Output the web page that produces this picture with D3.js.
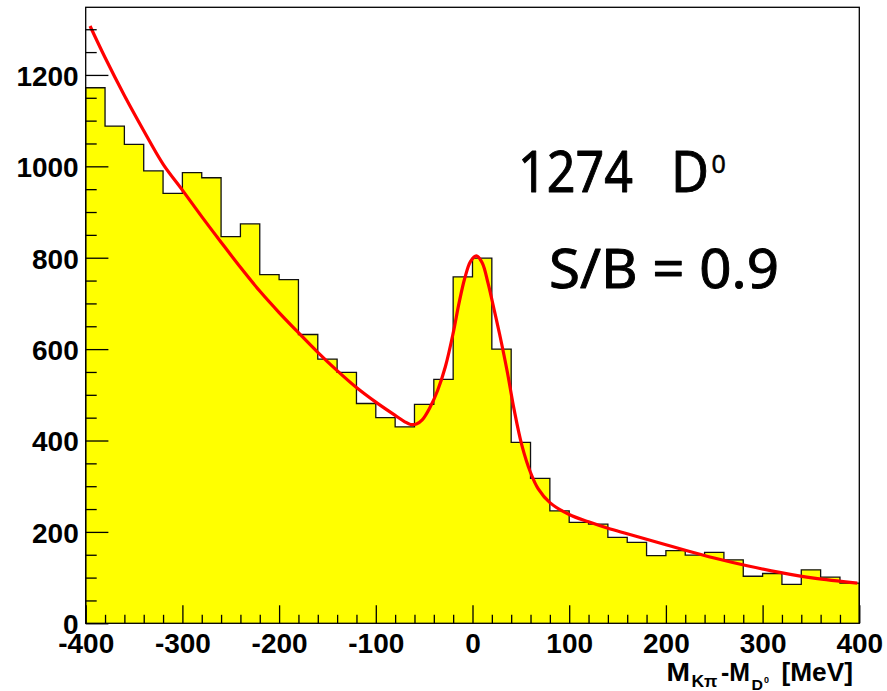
<!DOCTYPE html>
<html>
<head>
<meta charset="utf-8">
<script src="https://cdn.jsdelivr.net/npm/d3@7"></script>
<style>
  html, body { margin: 0; padding: 0; background: #fff; }
  svg { display: block; }
</style>
</head>
<body>
<svg id="chart" width="887" height="691"></svg>
<script>
// ---- Data ----
// histogram bins: left edges (MeV), width 20
const binEdges = [-400,-380,-360,-340,-320,-300,-280,-260,-240,-220,-200,-180,-160,-140,-120,-100,-80,-60,-40,-20,
                  0,20,40,60,80,100,120,140,160,180,200,220,240,260,280,300,320,340,360,380];
const binCounts = [1172,1088,1048,990,941,986,975,846,874,763,752,632,578,549,481,450,430,479,534,758,
                   799,600,396,317,246,221,217,188,177,148,159,149,155,139,103,109,85,117,101,88];
const binWidth = 20;

// fit curve
const fitX = [-395.5,-380,-360,-340,-320,-300,-280,-260,-240,-220,-200,-180,-160,-140,-120,-100,-80,-70,-64,-58,-52,-44,-36,-28,-20,-14,-8,-2,4,10,16,22,28,36,43,51,60,68,80,100,120,140,160,180,200,220,250,284,319,353,398];
const fitY = [1307,1238,1155,1078,1005,948,890,834,779,727,680,636,593,553,516,484,455,441,435,436,445,472,510,562,635,700,755,792,804,789,745,690,633,550,468,390,330,294,264,238,222,208,196,184,172,160,143,126,111,99,88];

const xMajorTicks = [-400,-300,-200,-100,0,100,200,300,400];
const yMajorTicks = [0,200,400,600,800,1000,1200];

// ---- Layout ----
const svg = d3.select("#chart");
const L = 85.7, R = 859.3, T = 7.3, B = 623.3;
const x = d3.scaleLinear().domain([-400, 400]).range([L, R]);
const y = d3.scaleLinear().domain([0, 1348]).range([B, T]);

// histogram fill
const pts = binEdges.map((e, i) => [e, binCounts[i]]);
pts.push([binEdges[binEdges.length - 1] + binWidth, binCounts[binCounts.length - 1]]);

const area = d3.area()
  .x(d => x(d[0]))
  .y0(y(0))
  .y1(d => y(d[1]))
  .curve(d3.curveStepAfter);

svg.append("path")
  .attr("d", area(pts))
  .attr("fill", "#ffff00")
  .attr("stroke", "none");

// histogram outline
const stepPath = d3.line().x(d => x(d[0])).y(d => y(d[1])).curve(d3.curveStepAfter)(pts);
svg.append("path")
  .attr("d", "M" + x(-400) + "," + y(0) + "L" + stepPath.slice(1) + "L" + x(400) + "," + y(0))
  .attr("fill", "none")
  .attr("stroke", "#111")
  .attr("stroke-width", 1.3);

// fit curve
const fitPts = fitX.map((v, i) => [v, fitY[i]]);
svg.append("path")
  .attr("d", d3.line().x(d => x(d[0])).y(d => y(d[1])).curve(d3.curveCatmullRom.alpha(0.5))(fitPts))
  .attr("fill", "none")
  .attr("stroke", "#ff0000")
  .attr("stroke-width", 3.2)
  .attr("stroke-linejoin", "round");

// frame
svg.append("rect")
  .attr("x", L).attr("y", T)
  .attr("width", R - L).attr("height", B - T)
  .attr("fill", "none")
  .attr("stroke", "#000")
  .attr("stroke-width", 1.3);

const labelFont = "'Liberation Sans', Arial, Helvetica, sans-serif";
const fmt = d => String(d);

// y axis minor
const yMinor = d3.range(0, 1301, 50).filter(v => v % 200 !== 0);
const gyMinor = svg.append("g").attr("transform", `translate(${L},0)`)
  .call(d3.axisLeft(y).tickValues(yMinor).tickSize(-11).tickFormat(""));
gyMinor.select(".domain").remove();
gyMinor.selectAll("line").attr("stroke", "#000").attr("stroke-width", 1.3);

// y axis major
const gy = svg.append("g").attr("transform", `translate(${L},0)`)
  .call(d3.axisLeft(y).tickValues(yMajorTicks).tickSize(-22.7).tickPadding(7).tickFormat(fmt));
gy.select(".domain").remove();
gy.selectAll("line").attr("stroke", "#000").attr("stroke-width", 1.3);
gy.selectAll("text")
  .attr("dy", "0.37em")
  .style("font-family", labelFont)
  .style("font-weight", "bold")
  .style("font-size", "28px")
  .attr("fill", "#000");

// x axis minor
const xMinor = d3.range(-400, 401, 20).filter(v => v % 100 !== 0);
const gxMinor = svg.append("g").attr("transform", `translate(0,${B})`)
  .call(d3.axisBottom(x).tickValues(xMinor).tickSize(-8.5).tickFormat(""));
gxMinor.select(".domain").remove();
gxMinor.selectAll("line").attr("stroke", "#000").attr("stroke-width", 1.3);

// x axis major
const gx = svg.append("g").attr("transform", `translate(0,${B})`)
  .call(d3.axisBottom(x).tickValues(xMajorTicks).tickSize(-18).tickPadding(9.5).tickFormat(fmt));
gx.select(".domain").remove();
gx.selectAll("line").attr("stroke", "#000").attr("stroke-width", 1.3);
gx.selectAll("text")
  .style("font-family", labelFont)
  .style("font-weight", "bold")
  .style("font-size", "28px")
  .attr("fill", "#000");

// x-axis title
const title = svg.append("g")
  .style("font-family", labelFont)
  .style("font-weight", "bold")
  .attr("fill", "#000");
const tpart = (tx, ty, fs, len, s) => {
  const t = title.append("text").attr("x", tx).attr("y", ty).style("font-size", fs + "px").text(s);
  if (len) t.attr("textLength", len).attr("lengthAdjust", "spacingAndGlyphs");
  return t;
};
tpart(666.5, 681, 26, 23.5, "M");
tpart(691.5, 686.5, 16, 26, "Kπ");
tpart(721, 681, 26, 29, "-M");
tpart(751.5, 689.5, 15, 11.5, "D");
tpart(764, 682.5, 9, 0, "0");
tpart(781.5, 681, 26, 71.5, "[MeV]");

// annotations
const annFont = "'Comic Sans MS', 'Noto Sans', 'DejaVu Sans', sans-serif";
const ann = svg.append("g").style("font-family", annFont).attr("fill", "#000")
  .attr("stroke", "#000").attr("stroke-width", 0.9).attr("stroke-linejoin", "round");
ann.append("text").attr("x", 518).attr("y", 191.7).style("font-size", "56px")
  .attr("textLength", 115).attr("lengthAdjust", "spacingAndGlyphs").text("1274");
ann.append("text").attr("x", 671).attr("y", 191.7).style("font-size", "56px")
  .attr("textLength", 38).attr("lengthAdjust", "spacingAndGlyphs").text("D");
ann.append("text").attr("x", 711.5).attr("y", 173.3).style("font-size", "25px").attr("stroke-width", 0.5).text("0");
ann.append("text").attr("x", 549).attr("y", 288.3).style("font-size", "54px")
  .attr("textLength", 230).attr("lengthAdjust", "spacingAndGlyphs").text("S/B = 0.9");
</script>
</body>
</html>
